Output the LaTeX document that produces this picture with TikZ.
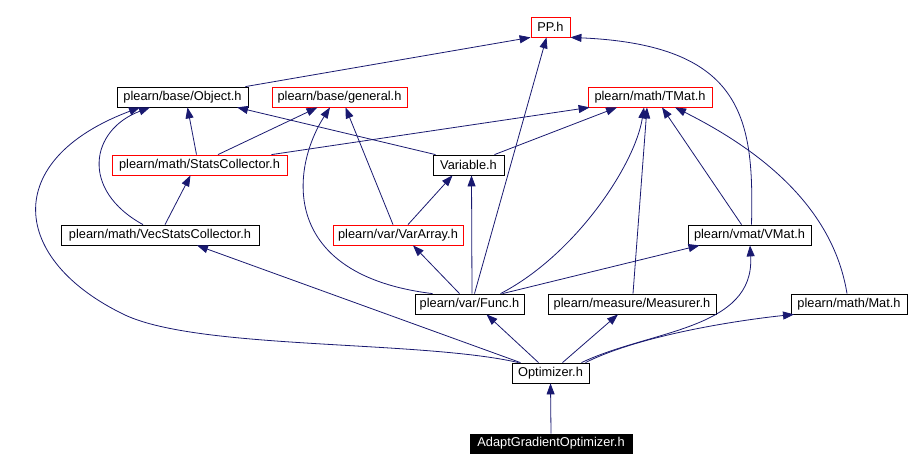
\documentclass[tikz,border=0pt]{standalone}
\usepackage{fontspec}
\setmainfont{Liberation Sans}
\usetikzlibrary{arrows.meta}
\definecolor{edgec}{HTML}{191970}
\begin{document}
\begin{tikzpicture}[x=1pt,y=-1pt,
 box/.style={draw=black,line width=0.8pt,minimum height=20pt,inner sep=0pt,font=\fontsize{12.8}{14}\selectfont},
 redbox/.style={box,draw=red},
 edge/.style={draw=edgec,line width=0.8pt,-{Triangle[length=11pt,width=8pt]}}]
\useasboundingbox (0,0) rectangle (917,470);
% nodes
\node[redbox,minimum width=39pt]  (PP)  at (550.5,27) {PP.h};
\node[box,minimum width=131pt]    (Obj) at (182.5,97) {plearn/base/Object.h};
\node[redbox,minimum width=135pt] (Gen) at (339.5,97) {plearn/base/general.h};
\node[redbox,minimum width=124pt] (TMat) at (650,97) {plearn/math/TMat.h};
\node[redbox,minimum width=175pt] (SC)  at (199.5,165) {plearn/math/StatsCollector.h};
\node[box,minimum width=71pt]     (Var) at (468.5,165) {Variable.h};
\node[box,minimum width=198pt]    (VSC) at (160,235) {plearn/math/VecStatsCollector.h};
\node[redbox,minimum width=130pt] (VA)  at (398,235) {plearn/var/VarArray.h};
\node[box,minimum width=123pt]    (VMat) at (749.5,235) {plearn/vmat/VMat.h};
\node[box,minimum width=109pt]    (Func) at (469.5,304) {plearn/var/Func.h};
\node[box,minimum width=168pt]    (Meas) at (632,304) {plearn/measure/Measurer.h};
\node[box,minimum width=116pt]    (Mat) at (849,304) {plearn/math/Mat.h};
\node[box,minimum width=77pt]     (Opt) at (550.5,373) {Optimizer.h};
\node[box,fill=black,text=white,minimum width=162pt,minimum height=19pt] (AGO) at (551,443.5) {AdaptGradientOptimizer.h};
% edges
\draw[edge] ([xshift=-3pt]Obj.north east) -- (PP.south west);
\draw[edge] ([xshift=5pt]Func.north) -- ([xshift=-4pt]PP.south);
\draw[edge] ([xshift=2pt]VMat.north) .. controls (754,120) and (745,45) .. (PP.south east);
\draw[edge] ([xshift=-3pt]SC.north) -- ([xshift=5pt]Obj.south);
\draw[edge] ([xshift=-17pt]VSC.north) .. controls (80,190) and (90,130) .. ([xshift=-32.5pt]Obj.south);
\draw[edge] ([xshift=7pt]Opt.north west) .. controls (420,340) and (200,350) .. (125,315)
   .. controls (10,260) and (0,160) .. ([xshift=-42.5pt]Obj.south);
\draw[edge] ([xshift=-33pt]Var.north) -- ([xshift=54.5pt]Obj.south);
\draw[edge] ([xshift=18.5pt]SC.north) -- ([xshift=-22pt]Gen.south);
\draw[edge] ([xshift=-37pt]Func.north) .. controls (280,275) and (290,170) .. ([xshift=-9.5pt]Gen.south);
\draw[edge] ([xshift=-5pt]VA.north) -- ([xshift=6pt]Gen.south);
\draw[edge] ([xshift=72pt]SC.north) -- ([xshift=2pt]TMat.south west);
\draw[edge] ([xshift=26pt]Var.north) -- ([xshift=-33pt]TMat.south);
\draw[edge] ([xshift=31pt]Func.north) .. controls (575,255) and (635,165) .. ([xshift=-6pt]TMat.south);
\draw[edge] ([xshift=1pt]Meas.north) -- ([xshift=-3pt]TMat.south);
\draw[edge] ([xshift=-8pt]VMat.north) -- ([xshift=12pt]TMat.south);
\draw[edge] ([xshift=-2pt]Mat.north) .. controls (835,220) and (780,160) .. ([xshift=25pt]TMat.south);
\draw[edge] ([xshift=5pt]VSC.north) -- ([xshift=-9pt]SC.south);
\draw[edge] ([xshift=10pt]VA.north) -- ([xshift=-16pt]Var.south);
\draw[edge] ([xshift=2.5pt]Func.north) -- ([xshift=3pt]Var.south);
\draw[edge] ([xshift=-10pt]Func.north) -- ([xshift=15pt]VA.south);
\draw[edge] ([xshift=33pt]Func.north) -- ([xshift=-50pt]VMat.south);
\draw[edge] ([xshift=-30pt]Opt.north) -- ([xshift=37pt]VSC.south);
\draw[edge] ([xshift=-12pt]Opt.north) -- ([xshift=17pt]Func.south);
\draw[edge] ([xshift=12pt]Opt.north) -- ([xshift=-14pt]Meas.south);
\draw[edge] ([xshift=31pt]Opt.north) .. controls (650,330) and (755,330) .. ([xshift=0.5pt]VMat.south);
\draw[edge] ([xshift=35pt]Opt.north) .. controls (640,335) and (740,320) .. ([xshift=-55pt]Mat.south);
\draw[edge] (AGO.north) -- (Opt.south);
\end{tikzpicture}
\end{document}
